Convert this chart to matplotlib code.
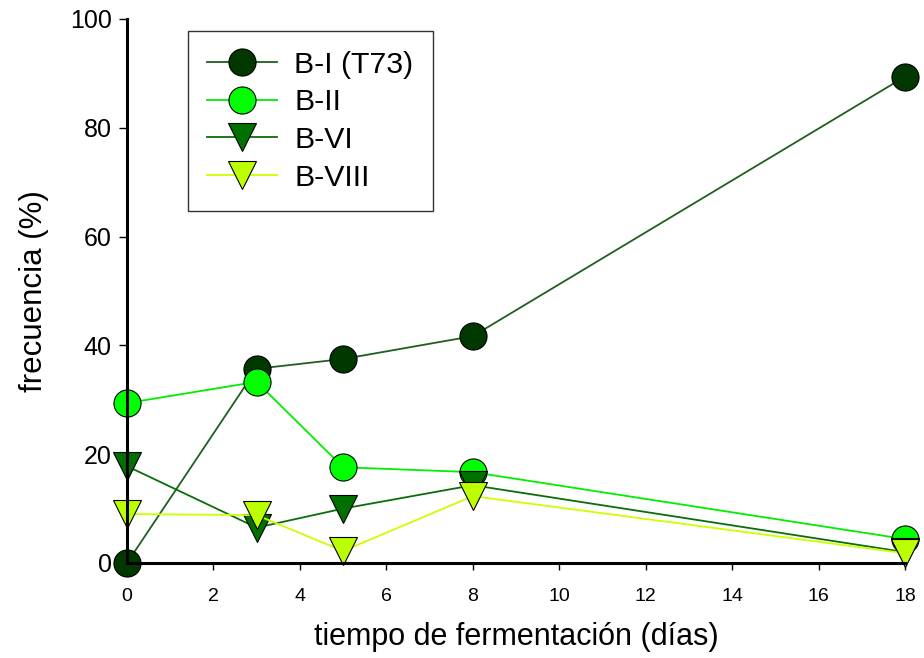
import matplotlib
matplotlib.use("Agg")
import matplotlib.pyplot as plt

plt.rcParams['font.family'] = ['Liberation Sans', 'DejaVu Sans']

days = [0, 3, 5, 8, 18]
b_i = [0.0, 35.7, 37.5, 41.7, 89.4]
b_ii = [29.4, 33.3, 17.6, 16.7, 4.4]
b_vi = [17.8, 6.5, 10.0, 14.3, 2.0]
b_viii = [9.0, 8.8, 2.2, 12.3, 1.8]

series = [
    ("B-I (T73)", b_i, 'o', '#003800', '#1f5f1f'),
    ("B-II", b_ii, 'o', '#00ff00', '#00ee00'),
    ("B-VI", b_vi, 'v', '#007000', '#0a6e0a'),
    ("B-VIII", b_viii, 'v', '#bbff00', '#ccff00'),
]

fig = plt.figure(figsize=(9.24, 6.58), dpi=100)
ax = fig.add_axes([127/924, 1-563/658, (905-127)/924, (563-19)/658])

for label, vals, m, fc, lc in series:
    ax.plot(days, vals, color=lc, lw=1.3, marker=m, markersize=19.5,
            markerfacecolor=fc, markeredgecolor='black', markeredgewidth=0.8,
            label=label, clip_on=False)

ax.set_xlim(0, 18)
ax.set_ylim(0, 100)
ax.set_xticks(range(0, 19, 2))
ax.set_yticks(range(0, 101, 20))
ax.spines['top'].set_visible(False)
ax.spines['right'].set_visible(False)
ax.spines['left'].set_linewidth(2.2)
ax.spines['bottom'].set_linewidth(2.2)
ax.tick_params(axis='both', direction='out', width=1)
ax.tick_params(axis='x', labelsize=14, pad=13, length=5)
ax.tick_params(axis='y', labelsize=18, pad=5, length=6)

ax.set_xlabel("tiempo de fermentación (días)", fontsize=22, labelpad=12)
ax.set_ylabel("frecuencia (%)", fontsize=22.5, labelpad=15)

leg = ax.legend(loc='upper left', bbox_to_anchor=(0.078, 0.978), borderaxespad=0,
                fontsize=21.8, frameon=True, fancybox=False, edgecolor='black',
                handlelength=2.3, handletextpad=0.57, labelspacing=0.32,
                borderpad=0.65)
leg.get_frame().set_linewidth(1.0)

fig.savefig("out.png", dpi=100)
